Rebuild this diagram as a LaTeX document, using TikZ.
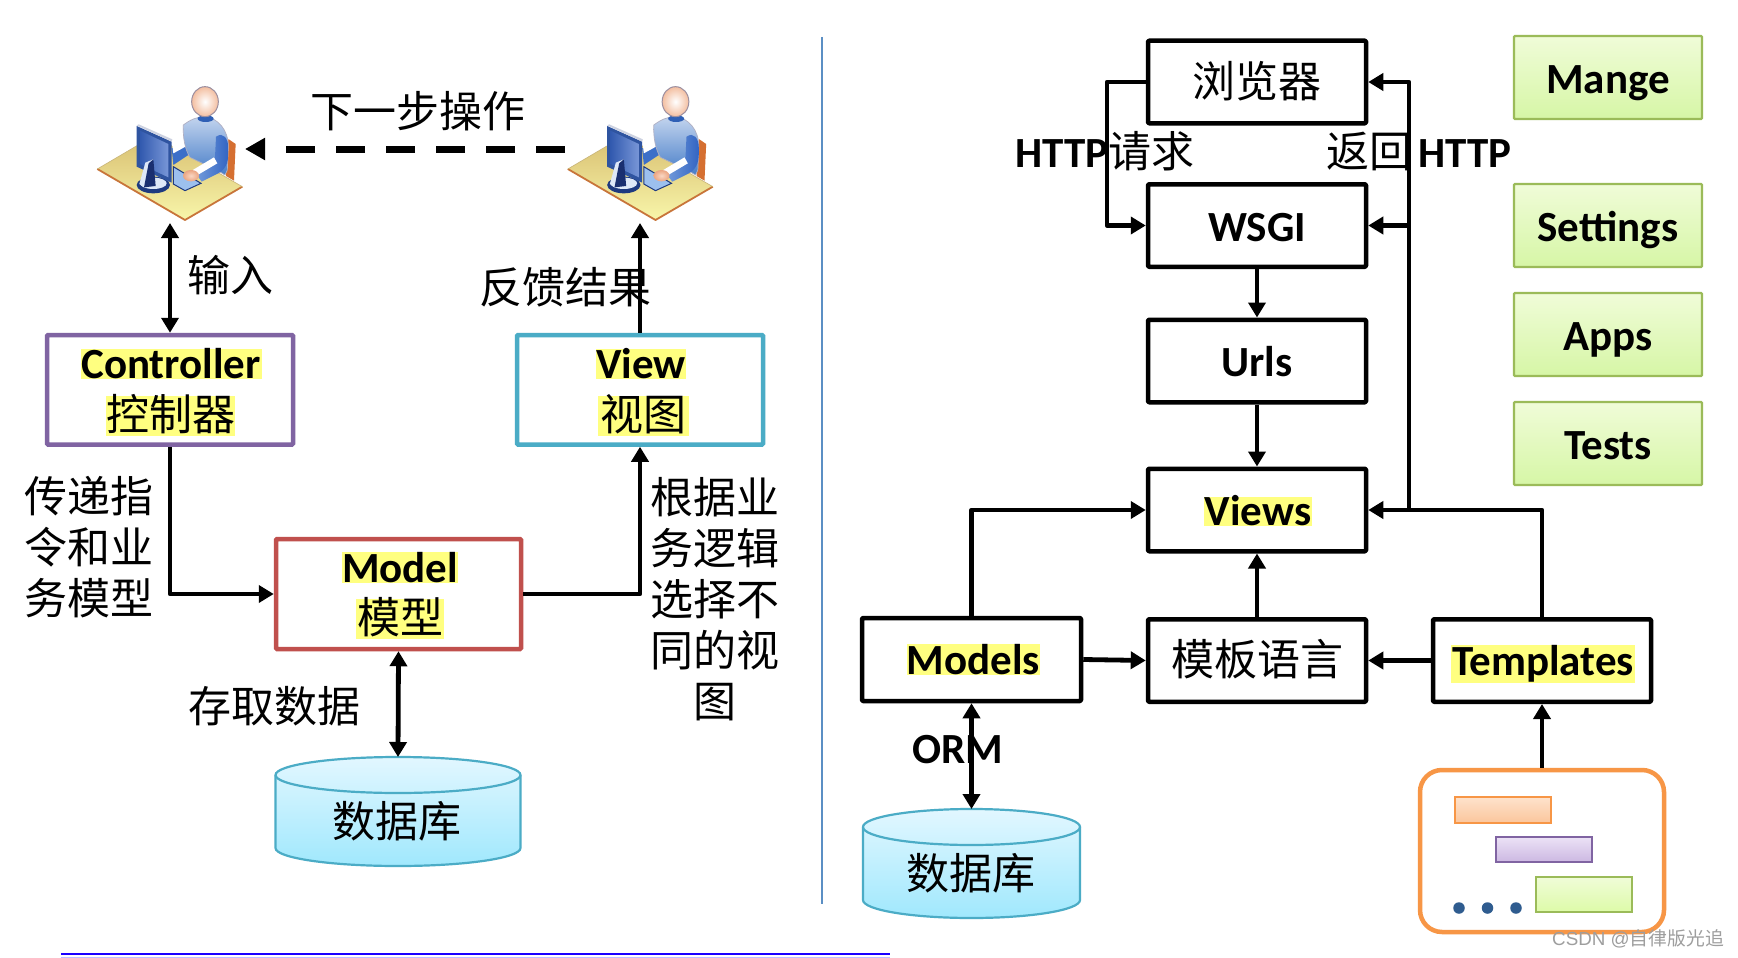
\documentclass[tikz,border=0pt]{standalone}
\usepackage{fontspec}
\usetikzlibrary{arrows.meta}
\setmainfont{Carlito}
\newfontfamily\cjkf{Noto Sans CJK SC}
\newfontfamily\wmf{Liberation Sans}
\definecolor{hlyellow}{HTML}{FFFF80}
\definecolor{cpurple}{HTML}{8064A2}
\definecolor{cteal}{HTML}{4BACC6}
\definecolor{cred}{HTML}{C0504D}
\definecolor{cgreen}{HTML}{9BBB59}
\definecolor{corange}{HTML}{F79646}
\definecolor{greentop}{HTML}{F0FCD8}
\definecolor{greenbot}{HTML}{D6F6A6}
\definecolor{dbtop}{HTML}{E2F7FF}
\definecolor{dbbot}{HTML}{A0E8FD}
\definecolor{divider}{HTML}{5B8FC4}
\definecolor{dotblue}{HTML}{2F5C8F}
\tikzset{
  zh/.style={font=\cjkf\fontsize{43}{51}\selectfont,inner sep=0pt},
  zhone/.style={zh,text height=36.5pt,text depth=6.5pt},
  la/.style={font=\rmfamily\bfseries\fontsize{43}{50}\selectfont,inner sep=0pt,text height=31pt,text depth=0pt},
  hl/.style={fill=hlyellow,inner sep=0pt},
  hlla/.style={hl,font=\rmfamily\bfseries\fontsize{43}{50}\selectfont},
  hlzh/.style={hl,font=\cjkf\fontsize{43}{50}\selectfont,text height=34.5pt,text depth=5.5pt},
  colbox/.style={draw=#1,line width=4.5pt,fill=white,rounded corners=1pt,inner sep=0pt,minimum width=246pt},
  blackbox/.style={draw=black,line width=4.5pt,fill=white,line join=round,rounded corners=1pt,inner sep=0pt,minimum width=218pt,minimum height=82.5pt},
  greenbox/.style={draw=cgreen,line width=2.2pt,top color=greentop,bottom color=greenbot,rounded corners=1pt,inner sep=0pt,minimum width=188pt,minimum height=83pt},
  conn/.style={line width=4.8pt,line join=round},
  arr/.style={conn,-{Triangle[length=15pt,width=17pt]}},
  dbl/.style={conn,{Triangle[length=15pt,width=17pt]}-{Triangle[length=15pt,width=17pt]}},
  ghost/.style={inner sep=0pt,outer sep=0pt},
  barbox/.style={line width=1.8pt,inner sep=0pt,minimum width=96pt},
}
\newcommand{\deskman}[1]{%
\begin{scope}[shift={(#1,70)},x=0.33333pt,y=-0.33333pt]
  \fill[color={rgb,255:red,213;green,111;blue,49}] (415,207) -- (437,222) -- (432,332) -- (408,318) -- cycle;
  \shade[top color={rgb,255:red,216;green,190;blue,112},bottom color={rgb,255:red,248;green,246;blue,170}] (22,297) -- (192,197) -- (457,350) -- (285,450) -- cycle;
  \draw[line width=1.8pt,color={rgb,255:red,200;green,117;blue,58},line join=round] (22,297) -- (285,450) -- (457,350);
  \draw[line width=.6pt,color={rgb,255:red,200;green,180;blue,120}] (22,297) -- (192,197) -- (457,350);
  \fill[color={rgb,255:red,156;green,192;blue,238},draw={rgb,255:red,31;green,58;blue,128},line width=1pt] (250,290) -- (333,340) -- (285,362) -- (250,342) -- cycle;
  \fill[color={rgb,255:red,60;green,111;blue,200}] (245,235) -- (290,212) -- (295,255) -- (250,285) -- cycle;
  \fill[white] (247,225) -- (285,208) -- (290,228) -- (250,250) -- cycle;
  \shade[top color={rgb,255:red,195;green,212;blue,238},bottom color={rgb,255:red,70;green,125;blue,200},draw={rgb,255:red,175;green,175;blue,195},line width=.7pt]
    (280,165) .. controls (300,150) and (320,140) .. (345,140) .. controls (385,145) and (415,180) .. (415,230) -- (412,300) -- (405,315) -- (380,300) -- (300,262) .. controls (285,240) and (278,200) .. (280,165) -- cycle;
  \fill[color={rgb,255:red,47;green,95;blue,181}] (347,146) ellipse [x radius=24,y radius=10];
  \shade[left color={rgb,255:red,120;green,160;blue,220},right color={rgb,255:red,50;green,100;blue,195}]
    (378,200) .. controls (400,185) and (415,205) .. (415,235) .. controls (416,270) and (412,295) .. (385,310) -- (335,335) -- (310,300) -- (375,262) -- cycle;
  \fill[white] (300,305) -- (372,262) -- (382,280) -- (318,318) -- cycle;
  \shade[inner color={rgb,255:red,250;green,215;blue,195},outer color={rgb,255:red,235;green,165;blue,130}] (303,317) ellipse [x radius=24,y radius=17];
  \shade[inner color=white,outer color={rgb,255:red,243;green,190;blue,160},draw={rgb,255:red,156;green,143;blue,160},line width=1pt] (345,95) ellipse [x radius=40,y radius=45];
  \fill[color={rgb,255:red,30;green,58;blue,128}] (190,345) ellipse [x radius=50,y radius=25];
  \fill[color={rgb,255:red,222;green,232;blue,248}] (190,340) ellipse [x radius=40,y radius=17];
  \fill[color={rgb,255:red,47;green,84;blue,160}] (140,168) -- (245,215) -- (245,338) -- (140,290) -- cycle;
  \shade[left color={rgb,255:red,50;green,90;blue,175},middle color=white,right color={rgb,255:red,120;green,150;blue,215}] (150,182) -- (235,222) -- (235,322) -- (150,282) -- cycle;
  \fill[color={rgb,255:red,222;green,232;blue,248}] (166,278) -- (190,268) -- (162,352) -- (148,342) -- cycle;
  \fill[color={rgb,255:red,26;green,47;blue,112}] (176,280) -- (190,268) -- (197,348) -- (162,352) -- cycle;
  \fill[color={rgb,255:red,205;green,210;blue,225}] (140,166) -- (146,163) -- (247,208) -- (245,215) -- cycle;
\end{scope}}
\begin{document}
\begin{tikzpicture}[x=1pt,y=-1pt]
\useasboundingbox (0,0) rectangle (1738,958);
\fill[white] (0,0) rectangle (1738,958);

% dividers
\draw[divider,line width=2pt] (822,37) -- (822,904);
\draw[color={rgb,255:red,26;green,0;blue,255},line width=2.6pt] (61,954) -- (890,954);
\draw[color={rgb,255:red,190;green,190;blue,255},line width=1pt] (61,957.5) -- (890,957.5);

% figures at the desks
\deskman{90}
\deskman{560.5}
\coordinate (userLb) at (170,223);
\coordinate (userRb) at (640,223);
\coordinate (userLe) at (245,149);
\coordinate (userRw) at (565,149);

% left column boxes
\node[colbox=cpurple,minimum height=109.5pt] (ctrl) at (170,389.75) {};
\node[colbox=cteal,minimum height=109.5pt] (view) at (640,389.75) {};
\node[colbox=cred,minimum height=110pt,minimum width=245pt] (model) at (398.5,594) {};
\node[hlla,minimum width=181pt,text height=29.5pt,text depth=.5pt] (ctrlA) at (171,364) {Controller};
\node[hlzh,minimum width=129pt] (ctrlB) at (170.5,416) {控制器};
\node[hlla,minimum width=90pt,text height=29.5pt,text depth=.5pt] (viewA) at (641,364) {View};
\node[hlzh,minimum width=91pt] (viewB) at (643.5,416) {视图};
\node[hlla,minimum width=116pt,text height=30.5pt,text depth=.5pt] (modelA) at (400,567.5) {Model};
\node[hlzh,minimum width=88pt] (modelB) at (400,619) {模型};

% databases
\begin{scope}[shift={(398,757)},xscale=122.5]
  \shade[top color=dbtop,bottom color=dbbot,draw=cteal,line width=2.2pt]
    (-1,18) .. controls (-1,8) and (-.55,0) .. (0,0) .. controls (.55,0) and (1,8) .. (1,18) -- (1,91) .. controls (1,101) and (.55,109) .. (0,109) .. controls (-.55,109) and (-1,101) .. (-1,91) -- cycle;
  \draw[cteal,line width=2.2pt] (-1,18) .. controls (-1,28) and (-.55,36) .. (0,36) .. controls (.55,36) and (1,28) .. (1,18);
\end{scope}
\begin{scope}[shift={(971.5,809)},xscale=108.5]
  \shade[top color=dbtop,bottom color=dbbot,draw=cteal,line width=2.2pt]
    (-1,18) .. controls (-1,8) and (-.55,0) .. (0,0) .. controls (.55,0) and (1,8) .. (1,18) -- (1,91) .. controls (1,101) and (.55,109) .. (0,109) .. controls (-.55,109) and (-1,101) .. (-1,91) -- cycle;
  \draw[cteal,line width=2.2pt] (-1,18) .. controls (-1,28) and (-.55,36) .. (0,36) .. controls (.55,36) and (1,28) .. (1,18);
\end{scope}
\node[ghost,minimum width=245pt,minimum height=109pt] (dbL) at (398,811.5) {};
\node[ghost,minimum width=217pt,minimum height=109pt] (dbR) at (971.5,863.5) {};
\node[zhone] (dbLt) at (397,822) {数据库};
\node[zhone] (dbRt) at (971,874) {数据库};

% right column boxes
\node[blackbox,zhone,inner sep=0pt] (browser) at (1257,82) {浏览器};
\node[blackbox,la] (wsgi) at (1257,225.5) {WSGI};
\node[blackbox,la] (urls) at (1257,361) {Urls};
\node[blackbox] (views) at (1257,510) {};
\node[hlla,minimum width=108pt,text height=28pt,text depth=1pt] (viewsA) at (1258,511.5) {Views};
\node[blackbox,zhone] (tpl) at (1257,660.5) {模板语言};
\node[blackbox,minimum width=219pt,minimum height=83pt] (models) at (971.5,659.5) {};
\node[hlla,minimum width=133pt,text height=30pt,text depth=1pt] (modelsA) at (973.5,659.5) {Models};
\node[blackbox] (templates) at (1542,660.5) {};
\node[hlla,minimum width=184pt,text height=30pt,text depth=8pt] (templatesA) at (1543,664) {Templates};

% green boxes
\node[greenbox,la] (mange) at (1608,77.5) {Mange};
\node[greenbox,la] (settings) at (1608,225.5) {Settings};
\node[greenbox,la] (apps) at (1608,334.5) {Apps};
\node[greenbox,la] (tests) at (1608,443.5) {Tests};

% application container
\node[draw=corange,line width=4.5pt,fill=white,rounded corners=22pt,minimum width=244pt,minimum height=162pt,inner sep=0pt] (cont) at (1542,851) {};
\node[barbox,draw=corange,top color={rgb,255:red,254;green,226;blue,204},bottom color={rgb,255:red,251;green,198;blue,156},minimum height=26pt] (barA) at (1503,810) {};
\node[barbox,draw=cpurple,top color={rgb,255:red,236;green,226;blue,246},bottom color={rgb,255:red,204;green,184;blue,226},minimum height=25pt] (barB) at (1544,849.5) {};
\node[barbox,draw=cgreen,top color=greentop,bottom color={rgb,255:red,221;green,251;blue,168},minimum height=35pt] (barC) at (1584,894.5) {};
\node[circle,fill=dotblue,inner sep=0pt,minimum size=11.5pt] (dotA) at (1459,908) {};
\node[circle,fill=dotblue,inner sep=0pt,minimum size=11.5pt] (dotB) at (1487.5,908) {};
\node[circle,fill=dotblue,inner sep=0pt,minimum size=11.5pt] (dotC) at (1516,908) {};

% connectors, left
\draw[line width=7pt,dash pattern=on 29pt off 21pt,-{Triangle[length=20pt,width=21pt]}] (userRw) -- (userLe);
\draw[dbl] (ctrl.north) -- (userLb);
\draw[arr] (view.north) -- (userRb);
\draw[arr] (ctrl.south) |- (model.west);
\draw[arr] (model.east) -| (view.south);
\draw[dbl] (model.south) -- (dbL.north);

% connectors, right
\coordinate (loopx) at (1107,154);
\coordinate (retfoot) at (1409,510);
\draw[arr] (browser.west) -| (loopx) |- (wsgi.west);
\draw[arr] (retfoot) |- (browser.east);
\draw[arr] (retfoot |- wsgi.east) -- (wsgi.east);
\draw[arr] (wsgi.south) -- (urls.north);
\draw[arr] (urls.south) -- (views.north);
\draw[arr] (tpl.north) -- (views.south);
\draw[arr] (templates.north) |- (views.east);
\draw[arr] (models.north) |- (views.west);
\draw[arr] (models.east) -- (tpl.west);
\draw[arr] (templates.west) -- (tpl.east);
\draw[arr] (cont.north) -- (templates.south);
\draw[dbl] (models.south) -- (dbR.north);

% free labels
\node[zhone] (lbNext) at (418,112) {下一步操作};
\node[zhone] (lbInput) at (230,276) {输入};
\node[zhone] (lbFeed) at (565,288) {反馈结果};
\node[zh,align=center] (lbPass) at (89,547) {传递指\\令和业\\务模型};
\node[zh,align=center] (lbLogic) at (715,599) {根据业\\务逻辑\\选择不\\同的视\\图};
\node[zhone] (lbStore) at (274,707) {存取数据};
\node[zhone] (lbReq) at (1105,152) {{\rmfamily\bfseries HTTP}请求};
\node[zhone] (lbRet) at (1419,152) {返回\hspace{6pt}{\rmfamily\bfseries HTTP}};
\node[la] (lbOrm) at (958,748) {ORM};
\node[font=\wmf\fontsize{18.8}{22}\selectfont,text=black!38,inner sep=0pt] (lbMark) at (1638,939) {CSDN @{\cjkf 自律版光追}};
\end{tikzpicture}
\end{document}
